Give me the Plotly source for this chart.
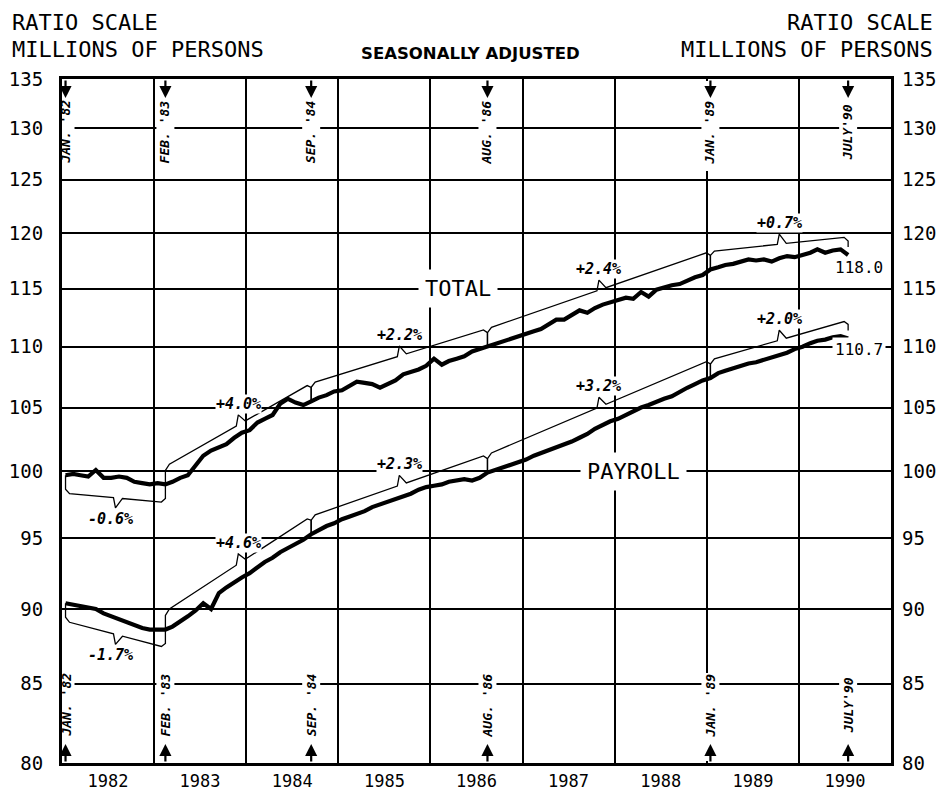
import numpy as np
import pandas as pd
import plotly.graph_objects as go

# ---------------- data (millions of persons, seasonally adjusted, monthly Jan 1982 - Jul 1990)
total = [
    99.7, 99.8, 99.7, 99.6, 100.1, 99.5, 99.5, 99.6, 99.5, 99.2, 99.1, 99.0,        # 1982
    99.1, 99.0, 99.2, 99.5, 99.7, 100.5, 101.2, 101.6, 101.9, 102.1, 102.6, 103.0,  # 1983
    103.2, 103.8, 104.1, 104.4, 105.3, 105.7, 105.4, 105.2, 105.5, 105.8, 106.0, 106.3,  # 1984
    106.4, 106.8, 107.1, 107.0, 106.9, 106.6, 106.9, 107.2, 107.7, 107.9, 108.1, 108.4,  # 1985
    109.0, 108.5, 108.8, 109.0, 109.2, 109.6, 109.8, 110.0, 110.2, 110.4, 110.6, 110.8,  # 1986
    111.0, 111.3, 111.5, 111.9, 112.3, 112.3, 112.7, 113.1, 112.9, 113.3, 113.6, 113.8,  # 1987
    114.0, 114.2, 114.1, 114.7, 114.3, 114.9, 115.1, 115.3, 115.4, 115.7, 116.0, 116.2,  # 1988
    116.7, 116.9, 117.1, 117.2, 117.4, 117.6, 117.5, 117.6, 117.4, 117.7, 117.9, 117.8,  # 1989
    118.0, 118.2, 118.5, 118.2, 118.4, 118.5, 118.0,                                   # 1990
]
payroll = [
    90.4, 90.3, 90.2, 90.1, 90.0, 89.7, 89.5, 89.3, 89.1, 88.9, 88.7, 88.6,        # 1982
    88.6, 88.6, 88.8, 89.2, 89.5, 89.9, 90.4, 90.0, 91.1, 91.5, 91.9, 92.2,        # 1983
    92.5, 92.9, 93.3, 93.6, 94.0, 94.3, 94.6, 94.9, 95.3, 95.6, 95.9, 96.1,        # 1984
    96.4, 96.6, 96.8, 97.0, 97.3, 97.5, 97.7, 97.9, 98.1, 98.3, 98.6, 98.8,        # 1985
    98.9, 99.0, 99.2, 99.3, 99.4, 99.3, 99.5, 99.9, 100.1, 100.3, 100.5, 100.7,    # 1986
    100.9, 101.2, 101.4, 101.6, 101.8, 102.0, 102.3, 102.6, 102.9, 103.3, 103.6, 103.9,  # 1987
    104.1, 104.4, 104.7, 105.0, 105.2, 105.5, 105.7, 105.9, 106.3, 106.6, 106.9, 107.2,  # 1988
    107.4, 107.8, 108.0, 108.2, 108.4, 108.6, 108.7, 108.9, 109.1, 109.3, 109.5, 109.8,  # 1989
    110.0, 110.3, 110.5, 110.6, 110.8, 110.9, 110.7,                                   # 1990
]
start_month = "1982-01"
period_months = ["1982-01", "1983-02", "1984-09", "1986-08", "1989-01", "1990-07"]
period_labels = ["JAN. '82", "FEB. '83", "SEP. '84", "AUG. '86", "JAN. '89", "JULY'90"]
total_pct = ["-0.6%", "+4.0%", "+2.2%", "+2.4%", "+0.7%"]
payroll_pct = ["-1.7%", "+4.6%", "+2.3%", "+3.2%", "+2.0%"]
y_ticks = [80, 85, 90, 95, 100, 105, 110, 115, 120, 125, 130, 135]

# ---------------- geometry (the page adds an 8px body margin around the figure)
W, H = 928, 783
ML, MR, MT, MB = 54, 45, 71, 28
PW, PH = W - ML - MR, H - MT - MB
YMIN, YMAX = 80, 135
X0, X1 = pd.Timestamp("1982-01-01"), pd.Timestamp("1991-01-01")
LNPX = np.log(YMAX / YMIN) / PH          # ln units per pixel
DPX = (X1 - X0) / PW                     # time per pixel

dates = pd.date_range(start_month + "-01", periods=len(total), freq="MS") + pd.Timedelta(days=14)
pidx = [dates.get_loc(pd.Timestamp(m + "-15")) for m in period_months]

MONO = "DejaVu Sans Mono"


def px(n, d):
    return np.exp(d * n * LNPX)


def brace(vals, i0, i1, d, last):
    x0, x1 = dates[i0], dates[i1]
    b0, b1 = vals[i0] * px(18, d), vals[i1] * px(18, d)
    span = x1 - x0

    def bl(t):
        f = (t - x0) / span
        return b0 * (b1 / b0) ** f

    c = 4 * DPX
    xm = x0 + span / 2
    xs = [x0, x0, x0 + c, xm - 2 * DPX, xm, xm + 7 * DPX, x1 - c, x1, x1]
    ys = [vals[i0], b0 / px(4, d), bl(x0 + c), bl(xm - 2 * DPX), bl(xm) * px(10, d),
          bl(xm + 7 * DPX), bl(x1 - c), b1 / px(4, d),
          (b1 / px(10, d)) if last else vals[i1]]
    return xs, ys, xm, bl(xm)


fig = go.Figure()
annotations = []

for vals, labels, yax in [(total, total_pct, "y"), (payroll, payroll_pct, "y2")]:
    for k in range(len(pidx) - 1):
        i0, i1 = pidx[k], pidx[k + 1]
        d = 1 if vals[i1] >= vals[i0] else -1
        xs, ys, xm, ym = brace(vals, i0, i1, d, k == len(pidx) - 2)
        fig.add_trace(go.Scatter(x=xs, y=ys, mode="lines", yaxis=yax,
                                 line=dict(color="black", width=1.3),
                                 hoverinfo="skip", showlegend=False))
        annotations.append(dict(
            x=xm, y=np.log10(ym), xref="x", yref="y", text=labels[k], showarrow=False,
            xanchor="center", yanchor="middle",
            yshift=21 * d, xshift=0 if d > 0 else -5, bgcolor="white", borderpad=0,
            font=dict(family=MONO, size=15, color="black", weight="bold", style="italic")))

fig.add_trace(go.Scatter(x=dates, y=total, mode="lines", name="TOTAL", yaxis="y",
                         line=dict(color="black", width=4.2), showlegend=False))
fig.add_trace(go.Scatter(x=dates, y=payroll, mode="lines", name="PAYROLL", yaxis="y2",
                         line=dict(color="black", width=4.2), showlegend=False))

# end values
annotations.append(dict(x=dates[-1], y=np.log10(total[-1]), xref="x", yref="y",
                        text=f"{total[-1]:.1f}", showarrow=False, xshift=11, yshift=-13,
                        xanchor="center", yanchor="middle",
                        font=dict(family=MONO, size=16, color="black")))
annotations.append(dict(x=dates[-1], y=np.log10(payroll[-1]), xref="x", yref="y",
                        text=f"{payroll[-1]:.1f}", showarrow=False, xshift=11, yshift=-11,
                        xanchor="center", yanchor="middle", bgcolor="white", borderpad=2,
                        font=dict(family=MONO, size=16, color="black")))

# series names on gridlines
annotations.append(dict(x=pd.Timestamp("1986-04-20"), y=np.log10(115), xref="x", yref="y",
                        text="TOTAL", showarrow=False, bgcolor="white", borderpad=6,
                        xanchor="center", yanchor="middle",
                        font=dict(family=MONO, size=22, color="black")))
annotations.append(dict(x=pd.Timestamp("1988-03-17"), y=np.log10(100), xref="x", yref="y",
                        text="PAYROLL", showarrow=False, bgcolor="white", borderpad=6,
                        xanchor="center", yanchor="middle",
                        font=dict(family=MONO, size=22, color="black")))

# period markers: masks, arrows, rotated labels
shapes = []
for i, lab in zip(pidx, period_labels):
    xd = dates[i]
    shapes.append(dict(type="rect", xref="x", yref="paper", xsizemode="pixel", xanchor=xd,
                       x0=-9, x1=9, y0=1 - 92 / PH, y1=1 - 2 / PH,
                       fillcolor="white", line=dict(width=0), layer="above"))
    shapes.append(dict(type="rect", xref="x", yref="paper", xsizemode="pixel", xanchor=xd,
                       x0=-9, x1=9, y0=2 / PH, y1=90 / PH,
                       fillcolor="white", line=dict(width=0), layer="above"))
    for ytip, ay in [(1 - 19 / PH, -19), (19 / PH, 19)]:
        annotations.append(dict(x=xd, y=ytip, xref="x", yref="paper", text="",
                                showarrow=True, ax=0, ay=ay, arrowhead=2, arrowsize=1.1,
                                arrowwidth=2.2, arrowcolor="black", standoff=0))
    for yc in [1 - 53 / PH, 58 / PH]:
        annotations.append(dict(x=xd, y=yc, xref="x", yref="paper", text=lab,
                                showarrow=False, textangle=-90,
                                xanchor="center", yanchor="middle",
                                font=dict(family=MONO, size=13, color="black",
                                          weight="bold", style="italic")))

# header texts
hdr = dict(family=MONO, size=22, color="black")
annotations += [
    dict(x=-52 / PW, y=1 + 57 / PH, xref="paper", yref="paper", text="RATIO SCALE",
         showarrow=False, xanchor="left", yanchor="middle", font=hdr),
    dict(x=-52 / PW, y=1 + 29 / PH, xref="paper", yref="paper", text="MILLIONS OF PERSONS",
         showarrow=False, xanchor="left", yanchor="middle", font=hdr),
    dict(x=1 + 44 / PW, y=1 + 57 / PH, xref="paper", yref="paper", text="RATIO SCALE",
         showarrow=False, xanchor="right", yanchor="middle", font=hdr),
    dict(x=1 + 44 / PW, y=1 + 29 / PH, xref="paper", yref="paper", text="MILLIONS OF PERSONS",
         showarrow=False, xanchor="right", yanchor="middle", font=hdr),
    dict(x=(470 - 62) / PW, y=1 + 26 / PH, xref="paper", yref="paper", text="SEASONALLY ADJUSTED",
         showarrow=False, xanchor="center", yanchor="middle",
         font=dict(family="DejaVu Sans", size=16.5, color="black", weight="bold")),
]

yr = [np.log10(YMIN), np.log10(YMAX)]
yaxis_common = dict(type="log", range=yr, tickmode="array", tickvals=y_ticks,
                    ticktext=[str(v) for v in y_ticks], ticks="", automargin=False,
                    zeroline=False, tickfont=dict(family=MONO, size=19, color="black"))

fig.update_layout(
    template="none",
    width=W, height=H, margin=dict(l=ML, r=MR, t=MT, b=MB, pad=0, autoexpand=False),
    paper_bgcolor="white", plot_bgcolor="white", showlegend=False,
    xaxis=dict(type="date", range=[X0, X1], tick0="1982-01-01", dtick="M12",
               ticklabelmode="period", tickformat="%Y", ticks="", automargin=False,
               showgrid=True, gridcolor="black", gridwidth=2, zeroline=False,
               showline=True, linecolor="black", linewidth=3, mirror=True,
               tickfont=dict(family=MONO, size=17, color="black"), ticklabelstandoff=1),
    yaxis=dict(**yaxis_common, showgrid=True, gridcolor="black", gridwidth=2,
               showline=True, linecolor="black", linewidth=3, mirror=True,
               ticklabelstandoff=12),
    yaxis2=dict(**yaxis_common, overlaying="y", side="right", showgrid=False,
                showline=False, ticklabelstandoff=10),
    annotations=annotations, shapes=shapes,
)

fig.write_html("out.html")
